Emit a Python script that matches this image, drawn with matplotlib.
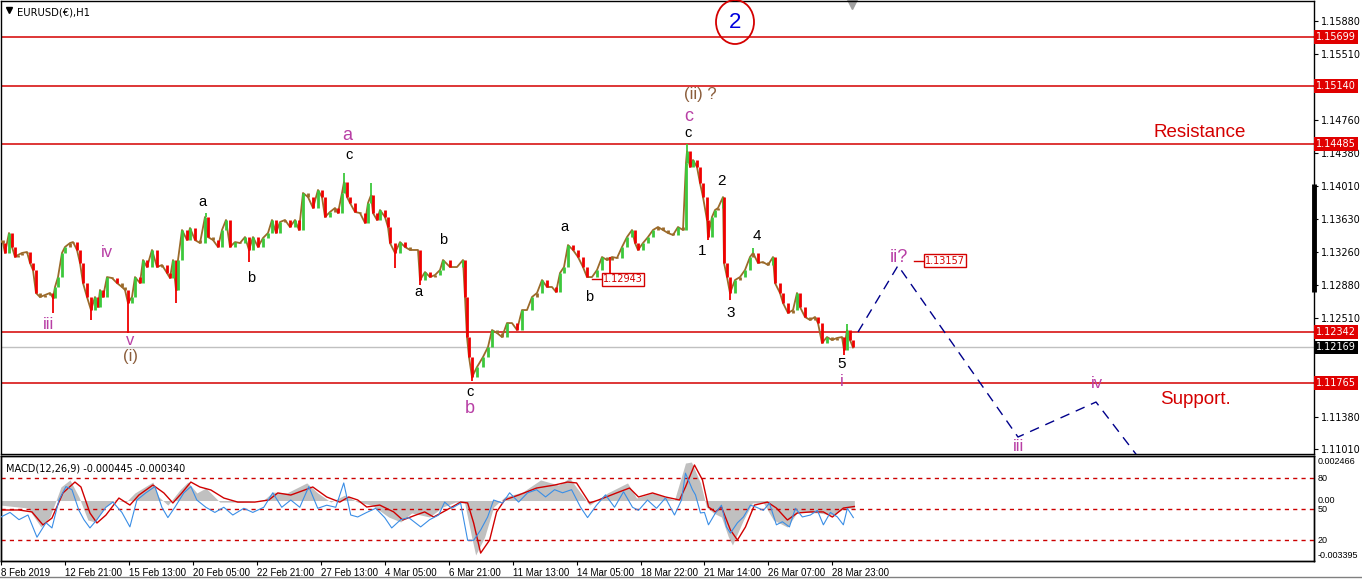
import matplotlib
matplotlib.use("Agg")
import matplotlib.pyplot as plt
import matplotlib.transforms as mtransforms
from matplotlib.patches import Ellipse
from matplotlib.lines import Line2D
import numpy as np

# EURUSD H1, hour index from 8 Feb 2019 and price
hours = [0, 3, 5, 9, 12, 15, 18, 22, 27, 30, 33, 36, 40, 45, 50, 53, 55, 58, 62, 65,
         70, 73, 77, 80, 83, 87, 91, 95, 98, 100, 103, 107, 112, 117, 122, 125, 128, 132, 135, 140,
         143, 147, 152, 157, 162, 167, 170, 173, 176, 178, 182, 187, 190, 195, 200, 205, 208, 213, 218, 222,
         226, 230, 235, 240, 245, 249, 253, 258, 263, 268, 272, 276, 280, 285, 290, 295, 299, 303, 308, 313,
         318, 322, 325, 330, 335, 338, 342, 344, 347, 350, 355, 360, 365, 368, 371, 373, 377, 380, 385, 388,
         390, 395, 400, 405, 410, 415, 418, 420, 425, 430, 435, 440, 443, 450, 457, 463, 465, 467, 469, 472,
         477, 483, 488, 492, 497, 502, 507, 512, 517, 522, 527, 532, 537, 542, 547, 552, 556, 560, 564, 568,
         573, 578, 583, 587, 592, 597, 602, 607, 612, 617, 622, 627, 632, 635, 638, 643, 648, 653, 658, 663,
         668, 673, 678, 683, 686, 687, 690, 693, 697, 700, 703, 707, 708, 712, 715, 718, 723, 724, 727, 730,
         735, 740, 745, 750, 753, 758, 763, 768, 773, 775, 780, 783, 788, 793, 797, 800, 805, 810, 815, 818,
         822, 827, 832, 837, 842, 844, 847, 850, 853]
closes = [1.13391, 1.13357, 1.13244, 1.13471, 1.13312, 1.13198, 1.13221, 1.13244, 1.13255, 1.13130,
          1.13050, 1.12789, 1.12743, 1.12766, 1.12789, 1.12732, 1.12857, 1.12970, 1.13244, 1.13312,
          1.13357, 1.13368, 1.13278, 1.13130, 1.12902, 1.12743, 1.12595, 1.12743, 1.12629, 1.12823,
          1.12743, 1.12970, 1.12959, 1.12902, 1.12857, 1.12823, 1.12675, 1.12743, 1.12970, 1.12902,
          1.13164, 1.13084, 1.13278, 1.13084, 1.13107, 1.13016, 1.12959, 1.13164, 1.12823, 1.13164,
          1.13505, 1.13391, 1.13528, 1.13391, 1.13357, 1.13653, 1.13425, 1.13391, 1.13312, 1.13505,
          1.13619, 1.13312, 1.13368, 1.13357, 1.13425, 1.13278, 1.13425, 1.13312, 1.13414, 1.13471,
          1.13619, 1.13471, 1.13596, 1.13619, 1.13539, 1.13619, 1.13505, 1.13926, 1.13880, 1.13755,
          1.13960, 1.13880, 1.13653, 1.13710, 1.13755, 1.13698, 1.13926, 1.14050, 1.13880, 1.13812,
          1.13710, 1.13698, 1.13585, 1.13812, 1.13900, 1.13698, 1.13619, 1.13732, 1.13653, 1.13539,
          1.13357, 1.13244, 1.13368, 1.13312, 1.13278, 1.13278, 1.13278, 1.12936, 1.13027, 1.12970,
          1.12993, 1.13050, 1.13164, 1.13084, 1.13084, 1.13164, 1.12743, 1.12288, 1.12061, 1.11833,
          1.11947, 1.12061, 1.12175, 1.12368, 1.12334, 1.12288, 1.12447, 1.12447, 1.12368, 1.12595,
          1.12595, 1.12743, 1.12789, 1.12936, 1.12857, 1.12857, 1.12800, 1.13016, 1.13084, 1.13334,
          1.13278, 1.13198, 1.13084, 1.12970, 1.12970, 1.13050, 1.13198, 1.13164, 1.13198, 1.13187,
          1.13312, 1.13425, 1.13505, 1.13357, 1.13278, 1.13357, 1.13425, 1.13505, 1.13539, 1.13505,
          1.13471, 1.13448, 1.13539, 1.13505, 1.14267, 1.14400, 1.14221, 1.14301, 1.14221, 1.14039,
          1.13880, 1.13619, 1.13425, 1.13653, 1.13732, 1.13755, 1.13880, 1.13130, 1.12970, 1.12789,
          1.12936, 1.12970, 1.13050, 1.13198, 1.13244, 1.13130, 1.13141, 1.13107, 1.13198, 1.12902,
          1.12789, 1.12675, 1.12561, 1.12595, 1.12789, 1.12629, 1.12516, 1.12482, 1.12516, 1.12447,
          1.12220, 1.12288, 1.12254, 1.12277, 1.12288, 1.12140, 1.12368, 1.12254, 1.12169]
spike_hours = [53, 91, 128, 176, 206, 249, 344, 371, 395, 420, 472, 610, 687, 708, 723, 730, 753, 844, 847]
spike_prices = [1.12561, 1.12482, 1.12334, 1.12675, 1.13698, 1.13141, 1.14153, 1.14039, 1.13073, 1.12879,
                1.11788, 1.12902, 1.14485, 1.13391, 1.13880, 1.12709, 1.13300, 1.12084, 1.12431]

levels = [1.15699, 1.15140, 1.14485, 1.12342, 1.11765]
last_price = 1.12169
price_ticks = [1.15880, 1.15510, 1.14760, 1.14380, 1.14010, 1.13630, 1.13260,
               1.12880, 1.12510, 1.11380, 1.11010]

# projected wave path (dashed)
proj_hours = [858, 898, 1018, 1096, 1160]
proj_prices = [1.12345, 1.13100, 1.11151, 1.11549, 1.10600]

# MACD(12,26,9) main (grey histogram) and signal, plus oscillator (0-100)
macd_hours = [0, 27, 40, 49, 60, 69, 78, 87, 94, 103, 114, 125, 134, 152, 158, 167, 179, 187, 196, 205,
              219, 241, 263, 272, 286, 306, 317, 330, 344, 357, 371, 388, 400, 411, 429, 442, 455, 464, 471, 475,
              484, 493, 504, 522, 540, 558, 569, 580, 589, 607, 627, 636, 652, 674, 685, 691, 700, 706, 713, 721,
              728, 732, 743, 752, 763, 773, 787, 797, 819, 832, 845, 854]
macd_vals = [-0.00026, -0.00043, -0.00151, -0.00094, 0.00077, 0.00117, 0.00020, -0.00111, -0.00122, -0.00043,
             0.00003, -0.00009, 0.00043, 0.00105, 0.00020, -0.00026, 0.00060, 0.00105, 0.00043, 0.00071,
             -0.00009, -0.00009, 0.00003, 0.00048, 0.00043, 0.00100, 0.00043, -0.00009, 0.00031, -0.00009,
             -0.00026, -0.00094, -0.00122, -0.00071, -0.00094, -0.00037, -0.00009, -0.00014, -0.00208, -0.00310,
             -0.00208, -0.00037, 0.00020, 0.00048, 0.00117, 0.00088, 0.00128, 0.00043, -0.00026, 0.00043,
             0.00100, 0.00014, 0.00043, 0.00003, 0.00213, 0.00219, 0.00100, -0.00037, -0.00071, -0.00094,
             -0.00208, -0.00253, -0.00111, -0.00014, -0.00014, -0.00111, -0.00151, -0.00065, -0.00071, -0.00083,
             -0.00043, -0.000445]
sig_hours = [0, 18, 31, 42, 51, 62, 74, 80, 89, 96, 105, 118, 129, 138, 152, 163, 172, 181, 190, 199,
             210, 223, 237, 254, 268, 277, 290, 304, 312, 326, 339, 348, 357, 366, 379, 393, 402, 415, 424, 433,
             446, 460, 467, 473, 480, 489, 496, 504, 518, 536, 554, 567, 576, 589, 598, 616, 629, 638, 652, 665,
             679, 685, 694, 702, 708, 715, 721, 730, 737, 745, 754, 767, 776, 787, 797, 810, 823, 832, 843, 854]
sig_vals = [-0.00054, -0.00054, -0.00065, -0.00139, -0.00100, 0.00043, 0.00105, 0.00077, -0.00071, -0.00128,
            -0.00083, 0.00014, -0.00026, 0.00031, 0.00088, 0.00043, -0.00014, 0.00043, 0.00105, 0.00077,
            0.00060, 0.00014, -0.00009, -0.00009, 0.00003, 0.00043, 0.00031, 0.00060, 0.00077, 0.00020,
            -0.00009, 0.00020, 0.00003, -0.00037, -0.00026, -0.00065, -0.00111, -0.00083, -0.00065, -0.00094,
            -0.00054, -0.00009, -0.00014, -0.00128, -0.00299, -0.00225, -0.00065, 0.00003, 0.00031, 0.00071,
            0.00088, 0.00105, 0.00100, -0.00014, 0.00003, 0.00043, 0.00071, 0.00020, 0.00043, 0.00020,
            0.00003, 0.00077, 0.00202, 0.00117, -0.00037, -0.00065, -0.00037, -0.00168, -0.00225, -0.00151,
            -0.00026, -0.00009, -0.00043, -0.00111, -0.00071, -0.00065, -0.00065, -0.00094, -0.00043, -0.00034]
osc_hours = [0, 9, 18, 27, 36, 45, 51, 58, 65, 71, 78, 83, 89, 96, 105, 112, 121, 129, 136, 145,
             154, 161, 167, 174, 183, 190, 196, 205, 214, 223, 232, 243, 252, 263, 272, 281, 290, 299, 308, 317,
             326, 335, 343, 350, 357, 366, 375, 384, 391, 400, 408, 420, 429, 438, 444, 451, 460, 467, 473, 480,
             487, 493, 502, 509, 518, 527, 536, 545, 554, 562, 571, 580, 587, 596, 605, 614, 623, 632, 638, 647,
             656, 665, 674, 681, 685, 692, 695, 700, 704, 708, 715, 721, 726, 730, 737, 743, 750, 756, 763, 769,
             776, 782, 789, 795, 802, 810, 817, 823, 830, 837, 843, 847, 853]
osc_vals = [42.6, 47, 40, 44.5, 23, 37, 32, 59, 72, 69, 49, 40, 32, 40, 52, 57, 47, 33, 59, 66,
            72, 52, 42, 52, 66, 72, 59, 52, 47, 52, 44.5, 51, 47, 52, 66, 52, 59, 52, 72, 51,
            54, 52, 75.5, 44.5, 42.6, 47, 51, 42, 32, 40, 42, 33, 40, 44.5, 57, 51, 56, 20, 20, 30,
            42.6, 59, 56, 66, 57, 66, 69, 62, 69, 66, 69, 52, 42, 54, 64, 52, 67, 52, 49, 59,
            51, 61, 44.5, 59, 85, 69, 64, 46.5, 47, 35, 46.5, 54, 33, 27, 37, 42.6, 54, 52, 49, 56,
            35, 38, 33, 51, 42.6, 44.5, 49, 35, 47, 42.6, 35, 51, 42]
osc_levels = [80, 50, 20]

date_hours = [0, 64, 128, 192, 256, 320, 384, 448, 512, 576, 640, 704, 768, 832]
date_labels = ['8 Feb 2019', '12 Feb 21:00', '15 Feb 13:00', '20 Feb 05:00', '22 Feb 21:00',
               '27 Feb 13:00', '4 Mar 05:00', '6 Mar 21:00', '11 Mar 13:00', '14 Mar 05:00',
               '18 Mar 22:00', '21 Mar 14:00', '26 Mar 07:00', '28 Mar 23:00']

# (text, hour, price, colour, size)
wave_labels = [
    ('a', 347, 1.14574, 'wave', 13), ('c', 349, 1.14358, 'k', 10.5),
    ('a', 202, 1.13823, 'k', 10.5), ('b', 251, 1.12959, 'k', 10.5),
    ('a', 418, 1.12800, 'k', 10.5), ('b', 443, 1.13391, 'k', 10.5),
    ('iii', 48, 1.12425, 'wave', 12), ('iv', 107, 1.13244, 'wave', 12),
    ('v', 130, 1.12243, 'wave', 12), ('(i)', 131, 1.12061, 'brown', 12),
    ('c', 470, 1.11663, 'k', 10.5), ('b', 470, 1.11481, 'wave', 13),
    ('a', 564, 1.13539, 'k', 10.5), ('b', 589, 1.12743, 'k', 10.5),
    ('c', 689, 1.14790, 'wave', 13), ('c', 688, 1.14608, 'k', 10.5),
    ('(ii) ?', 700, 1.15051, 'brown', 12),
    ('1', 702, 1.13266, 'k', 11), ('2', 722, 1.14062, 'k', 11),
    ('3', 731, 1.12561, 'k', 11), ('4', 757, 1.13437, 'k', 11),
    ('5', 842, 1.11981, 'k', 11), ('i', 842, 1.11777, 'wave', 12),
    ('ii?', 899, 1.13187, 'wave', 13), ('iii', 1018, 1.11040, 'wave', 12),
    ('iv', 1097, 1.11754, 'wave', 12),
]
tag_labels = [(592, 1.12943), (914, 1.13157)]

W, H = 1362, 585
RED = '#D40000'
WAVE = '#B83FA5'
BROWN = '#8B5E3C'
cmap = {'wave': WAVE, 'brown': BROWN, 'k': 'black'}
NARROW = ['Liberation Sans Narrow', 'Liberation Sans', 'DejaVu Sans']

fig = plt.figure(figsize=(W / 100, H / 100), dpi=100)
ax = fig.add_axes([1 / W, 1 - 454 / H, 1313 / W, 453 / H])
ax.set_xlim(1, 1314)
ax.set_ylim(1.10958, 1.16109)

# price bars
h = np.array(hours)
c = np.array(closes)
chg = np.diff(c)
cols = np.where(np.abs(chg) < 0.0005, '#9B6A2A', np.where(chg > 0, '#3CC83C', '#F00000'))
ax.plot(h, c, color='#9B6A2A', lw=1.3, zorder=3)
ax.vlines(h[1:], np.minimum(c[:-1], c[1:]), np.maximum(c[:-1], c[1:]), colors=cols, lw=2.0, zorder=4)
for sh, sp in zip(spike_hours, spike_prices):
    base = c[np.argmin(np.abs(h - sh))]
    ax.vlines(sh, min(base, sp), max(base, sp), colors='#F00000' if sp < base else '#3CC83C', lw=1.3, zorder=4)

for lv in levels:
    ax.axhline(lv, color=RED, lw=1.1, zorder=2)
ax.axhline(last_price, color='#C0C0C0', lw=1, zorder=1)

ax.plot(proj_hours, proj_prices, color='#00008B', lw=1, dashes=(7, 5), zorder=3)

for txt, x, y, col, fs in wave_labels:
    ax.text(x, y, txt, color=cmap[col], fontsize=fs, ha='center', va='center',
            family='Liberation Sans', zorder=6)

for x, y in tag_labels:
    ax.plot([x, x + 10], [y, y], color=RED, lw=1, zorder=5)
    ax.text(x + 11, y, f'{y:.5f}', color=RED, fontsize=7, ha='left', va='center', zorder=6,
            bbox=dict(boxstyle='square,pad=0.15', fc='white', ec=RED, lw=1))

ax.text(1200, 1.14619, 'Resistance', color=RED, fontsize=13.5, ha='center', va='center',
        family='Liberation Sans')
ax.text(1195, 1.11583, 'Support.', color=RED, fontsize=13.5, ha='center', va='center',
        family='Liberation Sans')

# circled wave 2
ax.add_patch(Ellipse((735, 1.15870), 38, 0.0050, fill=False, ec=RED, lw=1.3, zorder=6, clip_on=False))
ax.text(735, 1.15870, '2', color='#0000DD', fontsize=16, ha='center', va='center',
        family='Liberation Sans', zorder=7)

ax.text(0.012, 0.985, 'EURUSD(€),H1', transform=ax.transAxes, fontsize=7.2, ha='left', va='top')
ax.plot([0.006], [0.981], marker='v', ms=4, color='black', transform=ax.transAxes)
ax.plot([852], [1.16080], marker='v', ms=7, color='#A0A0A0', clip_on=False)

# right price scale
ax.yaxis.tick_right()
ax.set_yticks(price_ticks)
ax.set_yticklabels([f'{p:.5f}' for p in price_ticks])
ax.tick_params(axis='y', direction='out', length=3, width=0.8, pad=2, labelsize=7)
ax.set_xticks([])
for s in ax.spines.values():
    s.set_color('black')
    s.set_linewidth(1)

trans = mtransforms.blended_transform_factory(ax.transAxes, ax.transData)
for lv in levels:
    ax.text(1.0016, lv, f'{lv:.5f}', transform=trans, color='white', fontsize=7, ha='left',
            va='center', zorder=8, clip_on=False,
            bbox=dict(boxstyle='square,pad=0.2', fc='#E00000', ec='none'))
ax.text(1.0016, last_price, f'{last_price:.5f}', transform=trans, color='white', fontsize=7,
        ha='left', va='center', zorder=8, clip_on=False,
        bbox=dict(boxstyle='square,pad=0.2', fc='black', ec='none'))
ax.plot([1.0, 1.0], [1.14028, 1.12800], transform=trans, color='black', lw=3.5,
        clip_on=False, solid_capstyle='butt')

# MACD panel
ax2 = fig.add_axes([1 / W, 1 - 561 / H, 1313 / W, 105 / H])
ax2.set_xlim(1, 1314)
ax2.set_ylim(-0.003442, 0.002532)
ax2.fill_between(macd_hours, 0, macd_vals, color='#C0C0C0', lw=0)
ax2.plot(sig_hours, sig_vals, color='#D00000', lw=1, zorder=4)
ax3 = ax2.twinx()
ax3.set_ylim(0, 101.6)
ax3.plot(osc_hours, osc_vals, color='#3A8EE6', lw=0.8, zorder=3)
for lv in osc_levels:
    ax3.axhline(lv, color='#CC0000', lw=1, dashes=(3, 3))
ax3.set_yticks([])
ax2.set_yticks([])
ax2.set_xticks(date_hours)
ax2.set_xticklabels(date_labels, ha='left', fontsize=7, family=NARROW)
ax2.tick_params(axis='x', direction='out', length=3, pad=2)
for a in (ax2, ax3):
    for s in a.spines.values():
        s.set_color('black')
        s.set_linewidth(1)

ax2.text(0.004, 0.93, 'MACD(12,26,9) -0.000445 -0.000340', transform=ax2.transAxes,
         fontsize=7, ha='left', va='top')
t2 = mtransforms.blended_transform_factory(ax2.transAxes, ax2.transData)
t3 = mtransforms.blended_transform_factory(ax3.transAxes, ax3.transData)
ax2.text(1.003, 0.002466, '0.002466', transform=t2, fontsize=6.5, ha='left', va='top', family=NARROW)
ax2.text(1.003, 0.0, '0.00', transform=t2, fontsize=6.5, ha='left', va='center', family=NARROW)
ax2.text(1.003, -0.003395, '-0.003395', transform=t2, fontsize=6.5, ha='left', va='bottom', family=NARROW)
for lv in osc_levels:
    ax3.text(1.003, lv, str(lv), transform=t3, fontsize=6.5, ha='left', va='center', family=NARROW)

fig.add_artist(Line2D([0, 1], [1 - 577 / H, 1 - 577 / H], color='#808080', lw=1))

fig.savefig('out.png', dpi=100)
